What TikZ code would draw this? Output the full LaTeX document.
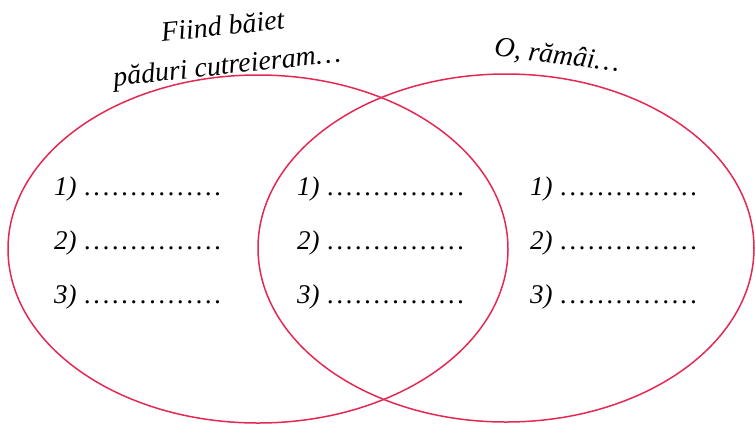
\documentclass[tikz,border=0pt]{standalone}
\usepackage{fontspec}
\setmainfont{Liberation Serif}
\usepackage{tikz}
\usetikzlibrary{positioning}
\definecolor{vennred}{RGB}{228,40,84}
\newcommand{\dotrow}{\hbox to 139.5pt{\leaders\hbox to 9.3pt{\hss.\hss}\hfill}}
\tikzset{
  venn/.style={draw=vennred, line width=1.5pt},
  item/.style={anchor=base west, inner sep=0pt, font=\fontsize{27}{30}\selectfont\itshape},
  heading/.style={align=center, inner sep=0pt, font=\fontsize{28}{39}\selectfont\itshape}
}
\begin{document}
\begin{tikzpicture}[x=1pt, y=-1pt]
\useasboundingbox (0,0) rectangle (755,424);
% cercuri
\draw[venn] (258,249) ellipse [x radius=250, y radius=174];
\draw[venn] (506,248) ellipse [x radius=248, y radius=174];
% titluri
\node[heading, rotate=6] (titleleft) at (225,48) {Fiind băiet\\păduri cutreieram…};
\node[heading, rotate=-7] (titleright) at (557,56) {O, rămâi…};
% stanga
\node[item] (l1) at (54,195) {1) \dotrow};
\node[item] (l2) at (54,249) {2) \dotrow};
\node[item] (l3) at (54,303) {3) \dotrow};
% mijloc
\node[item] (m1) at (297,195) {1) \dotrow};
\node[item] (m2) at (297,249) {2) \dotrow};
\node[item] (m3) at (297,303) {3) \dotrow};
% dreapta
\node[item] (r1) at (530,195) {1) \dotrow};
\node[item] (r2) at (530,249) {2) \dotrow};
\node[item] (r3) at (530,303) {3) \dotrow};
\end{tikzpicture}
\end{document}
